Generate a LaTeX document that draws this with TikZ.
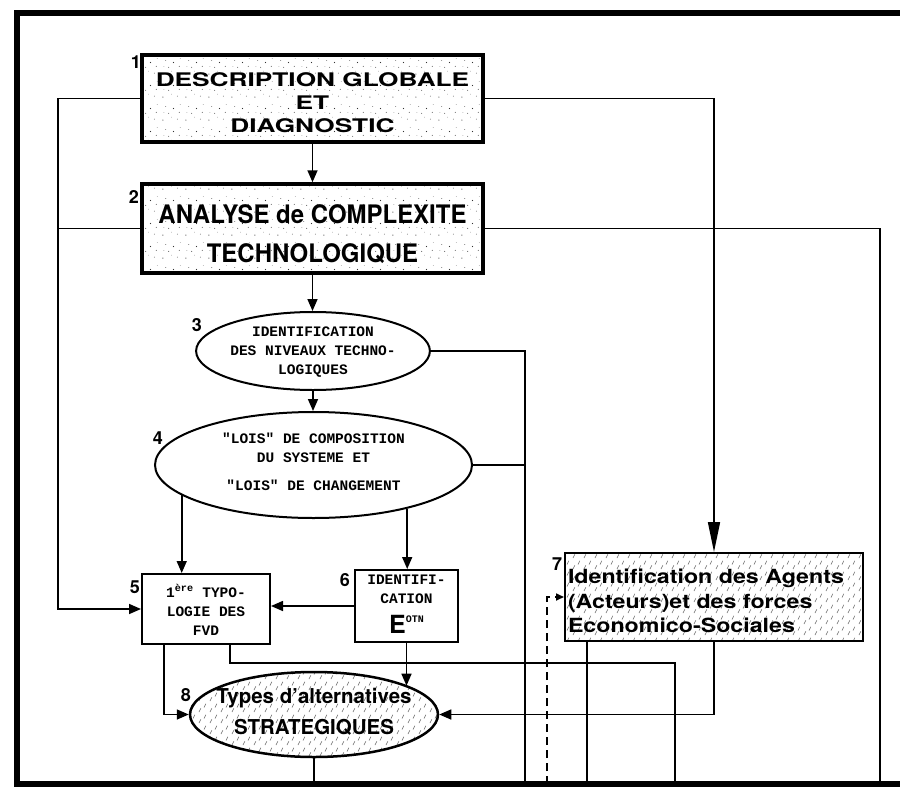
\documentclass[tikz,border=0pt]{standalone}
\usepackage{fontspec}
\setsansfont{TeX Gyre Heros}
\setmonofont{Liberation Mono}
\newfontfamily\widefont[FakeStretch=1.4]{TeX Gyre Heros}
\newfontfamily\narrowfont[FakeStretch=0.94]{TeX Gyre Heros}
\newfontfamily\agentfont[FakeStretch=1.19]{TeX Gyre Heros}
\usetikzlibrary{arrows.meta,positioning,shapes.geometric,patterns.meta}

% speckled and hatched fills
\tikzdeclarepattern{
  name=specks,
  type=uncolored,
  bounding box={(0pt,0pt) and (23pt,23pt)},
  tile size={(23pt,23pt)},
  code={
    \fill (2pt,3pt) circle (0.6pt);
    \fill (8pt,10pt) circle (0.5pt);
    \fill (17pt,4pt) circle (0.45pt);
    \fill (5pt,17pt) circle (0.4pt);
    \fill (13pt,15pt) circle (0.6pt);
    \fill (20pt,19pt) circle (0.35pt);
    \fill (11pt,6pt) circle (0.3pt);
    \fill (19pt,11pt) circle (0.5pt);
    \fill (3pt,11pt) circle (0.3pt);
  }
}
\tikzdeclarepattern{
  name=hatchdash,
  type=uncolored,
  bounding box={(0pt,0pt) and (11pt,11pt)},
  tile size={(11pt,11pt)},
  code={
    \draw[line width=0.6pt] (1pt,1pt) -- (3pt,5pt);
    \draw[line width=0.6pt] (6.5pt,6pt) -- (8.5pt,10pt);
  }
}

\tikzset{
  conn/.style={line width=1.6pt},
  flow/.style={-{Triangle[length=12pt,width=10pt]}},
  bigbox/.style={draw,line width=3.5pt,pattern=specks,pattern color=black!80,
    minimum width=341pt,align=center,inner sep=0pt},
  smallbox/.style={draw,line width=2pt,align=center,inner sep=0pt,
    font=\ttfamily\bfseries\fontsize{14.5}{19}\selectfont},
  oval/.style={ellipse,draw,line width=2pt,inner sep=0pt,align=center,
    font=\ttfamily\bfseries\fontsize{14.5}{19}\selectfont},
  hatched/.style={pattern=hatchdash,pattern color=black!60},
  num/.style={font=\sffamily\bfseries\fontsize{18}{18}\selectfont,inner sep=0pt}
}

\begin{document}
\begin{tikzpicture}[x=1pt,y=-1pt]
  \useasboundingbox (0,0) rectangle (900,790);
  % frame
  \draw[line width=6pt] (900,13) -- (17,13) -- (17,784) -- (900,784);
  \coordinate (bot) at (0,784);
  \coordinate (bus) at (58,0);
  \coordinate (mbus) at (525,0);
  \coordinate (rbus) at (880,0);
  \coordinate (tbus) at (675,663);
  \coordinate (dsh) at (547,784);

  % boxes
  \node[bigbox,minimum height=87pt,font=\widefont\bfseries\fontsize{18.75}{23}\selectfont]
       (desc) at (312.5,98.5) {\rule{0pt}{23pt}DESCRIPTION GLOBALE\\ET\\DIAGNOSTIC};
  \node[bigbox,minimum height=89pt,font=\narrowfont\bfseries\fontsize{25.5}{39}\selectfont]
       (cplx) at (312.5,228.5) {\rule{0pt}{30pt}ANALYSE de COMPLEXITE\\TECHNOLOGIQUE};
  \node[oval,minimum width=226pt,minimum height=78pt]
       (lvls) at (313,351) {\rule{0pt}{11pt}IDENTIFICATION\\DES NIVEAUX TECHNO-\\LOGIQUES};
  \node[oval,minimum width=317pt,minimum height=106pt]
       (laws) at (313.5,465) {\rule{0pt}{10pt}"LOIS" DE COMPOSITION\\DU SYSTEME ET\\[9pt]"LOIS" DE CHANGEMENT\rule[-7pt]{0pt}{7pt}};
  \node[smallbox,minimum width=128pt,minimum height=70pt]
       (typo) at (206,609) {\rule{0pt}{14pt}1\textsuperscript{ère} TYPO-\\LOGIE DES\\FVD};
  \node[smallbox,minimum width=103pt,minimum height=72pt]
       (eotn) at (406.5,606) {IDENTIFI-\\CATION\\[11pt]{\sffamily\bfseries\fontsize{25}{25}\selectfont E}\raisebox{11pt}{\fontsize{10}{10}\selectfont OTN}\rule[-3.5pt]{0pt}{0pt}};
  \node[draw,line width=2pt,hatched,minimum width=298pt,minimum height=88pt,text width=292pt,
        inner xsep=3pt,inner ysep=0pt,align=left,font=\agentfont\bfseries\fontsize{19.5}{24.5}\selectfont]
       (agents) at (714,597) {\rule{0pt}{23pt}Identification des Agents\\(Acteurs)et des forces\\Economico-Sociales};
  \node[oval,hatched,line width=2.5pt,minimum width=248pt,minimum height=85pt]
       (strat) at (314,714.5) {};
  \node[font=\sffamily\bfseries\fontsize{20.5}{31}\selectfont,align=center,inner sep=0pt]
       (strattxt) at ([yshift=2.5pt]strat.center) {Types d'alternatives\\STRATEGIQUES};

  % numbers
  \node[num] (n1) at (136,62) {1};
  \node[num] (n2) at (134,197) {2};
  \node[num] (n3) at (197,325) {3};
  \node[num] (n4) at (158,438) {4};
  \node[num] (n5) at (135,587) {5};
  \node[num] (n6) at (345,580) {6};
  \node[num] (n7) at (557,564) {7};
  \node[num] (n8) at (186,695) {8};

  % connectors
  \draw[conn,flow] (desc) -- (cplx);
  \draw[conn,flow] (cplx.south) -- (cplx.south |- lvls.north);
  \draw[conn,flow] (lvls.south) -- (lvls.south |- laws.north);
  \draw[conn,flow] (desc.west) -| (bus |- typo.west) -- (typo.west);
  \draw[conn] (cplx.west) -- (cplx.west -| bus);
  \draw[conn,-{Triangle[length=30pt,width=12pt]}] (desc.east) -| (agents.north);
  \draw[conn] (cplx.east) -| (rbus |- bot);
  \draw[conn] (lvls.east) -| (mbus |- bot);
  \draw[conn] (laws.east) -- (laws.east -| mbus);
  \draw[conn,flow] (laws.193.6) -- (laws.193.6 |- typo.north);
  \draw[conn,flow] (laws.335.7) -- (laws.335.7 |- eotn.north);
  \draw[conn,flow] (eotn.west) -- (eotn.west -| typo.east);
  \draw[conn,flow] (eotn.south) -- (eotn.south |- strat.17);
  \draw[conn,flow] ([xshift=23pt]typo.south west) |- (strat.west);
  \draw[conn] ([xshift=-41pt]typo.south east) |- (tbus) -- (tbus |- bot);
  \draw[conn,flow] (agents.south) |- (strat.east);
  \draw[conn] ([xshift=23pt]agents.south west) -- ([xshift=23pt]agents.south west |- bot);
  \draw[conn,dash pattern=on 8pt off 5pt,-{Triangle[length=8pt,width=7pt]}] (dsh) |- (agents.west);
  \draw[conn] (strat.south) -- (strat.south |- bot);
\end{tikzpicture}
\end{document}
